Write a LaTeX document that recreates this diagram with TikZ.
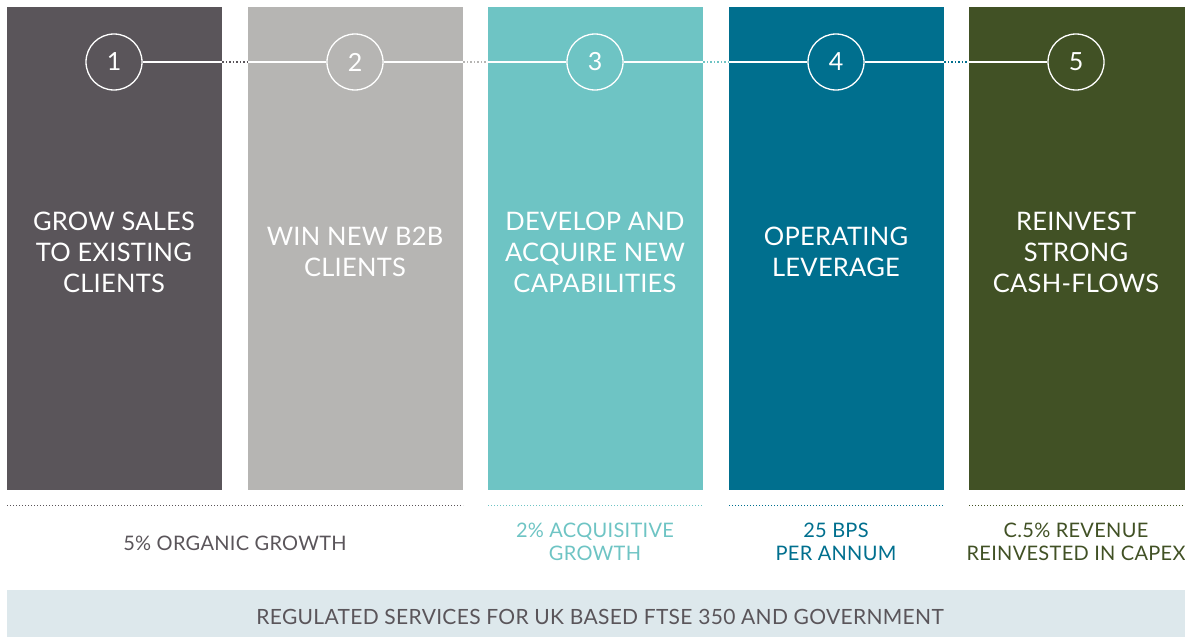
\documentclass[tikz,border=0pt]{standalone}
\usepackage{fontspec}
\setmainfont{Lato}
\definecolor{cA}{HTML}{5A555A}
\definecolor{cB}{HTML}{B6B5B3}
\definecolor{cC}{HTML}{6EC4C4}
\definecolor{cD}{HTML}{006F8E}
\definecolor{cE}{HTML}{415125}
\definecolor{band}{HTML}{DDE8EC}
\begin{document}
\begin{tikzpicture}[x=1pt,y=-1pt,
  colbox/.style={fill=#1,draw=none,minimum width=215pt,minimum height=483pt,inner sep=0pt,anchor=north west},
  numcirc/.style={circle,draw=white,line width=1.3pt,minimum size=56pt,inner sep=0pt,text=white,font=\fontsize{25}{27}\selectfont},
  coltext/.style={text=white,align=center,font=\fontsize{25.5}{31}\selectfont\addfontfeature{LetterSpace=1}},
  btext/.style={text=#1,align=center,font=\fontsize{20}{22.5}\selectfont\addfontfeature{LetterSpace=1.5}},
  wline/.style={draw=white,line width=1.3pt},
  gapdots/.style={draw=#1,line width=1.3pt,dash pattern=on 1.3pt off 2.2pt},
  basedots/.style={draw=#1,line width=1pt,dash pattern=on 1pt off 2pt}]
\useasboundingbox (0,0) rectangle (1185,637);
% columns
\node[colbox=cA] (col1) at (7,7) {};
\node[colbox=cB] (col2) at (248,7) {};
\node[colbox=cC] (col3) at (488,7) {};
\node[colbox=cD] (col4) at (729,7) {};
\node[colbox=cE,minimum width=216pt] (col5) at (969,7) {};
% circles
\node[numcirc] (c1) at (114,62) {1};
\node[numcirc] (c2) at (355,62) {2};
\node[numcirc] (c3) at (595,62) {3};
\node[numcirc] (c4) at (836,62) {4};
\node[numcirc] (c5) at (1076,62) {5};
% connecting lines
\draw[wline] (c1.east) -- (col1.east |- c1.east);
\draw[gapdots=cA] (col1.east |- c1.east) -- (col2.west |- c2.west);
\draw[wline] (col2.west |- c2.west) -- (c2.west);
\draw[wline] (c2.east) -- (col2.east |- c2.east);
\draw[gapdots=cB] (col2.east |- c2.east) -- (col3.west |- c3.west);
\draw[wline] (col3.west |- c3.west) -- (c3.west);
\draw[wline] (c3.east) -- (col3.east |- c3.east);
\draw[gapdots=cC] (col3.east |- c3.east) -- (col4.west |- c4.west);
\draw[wline] (col4.west |- c4.west) -- (c4.west);
\draw[wline] (c4.east) -- (col4.east |- c4.east);
\draw[gapdots=cD] (col4.east |- c4.east) -- (col5.west |- c5.west);
\draw[wline] (col5.west |- c5.west) -- (c5.west);
% column texts
\node[coltext] (t1) at (114,252) {GROW SALES\\TO EXISTING\\CLIENTS};
\node[coltext] (t2) at (355,252) {WIN NEW B2B\\CLIENTS};
\node[coltext] (t3) at (595,252) {DEVELOP AND\\ACQUIRE NEW\\CAPABILITIES};
\node[coltext] (t4) at (836,252) {OPERATING\\LEVERAGE};
\node[coltext] (t5) at (1076,252) {REINVEST\\STRONG\\CASH-FLOWS};
% base dotted lines
\coordinate (d1a) at (7,505); \coordinate (d1b) at (463,505);
\coordinate (d3a) at (488,505); \coordinate (d3b) at (703,505);
\coordinate (d4a) at (729,505); \coordinate (d4b) at (944,505);
\coordinate (d5a) at (969,505); \coordinate (d5b) at (1185,505);
\draw[basedots=cA] (d1a) -- (d1b);
\draw[basedots=cC] (d3a) -- (d3b);
\draw[basedots=cD] (d4a) -- (d4b);
\draw[basedots=cE] (d5a) -- (d5b);
% bottom texts
\node[btext=cA] (b1) at (235,543) {5\% ORGANIC GROWTH};
\node[btext=cC] (b3) at (595,542) {2\% ACQUISITIVE\\GROWTH};
\node[btext=cD] (b4) at (836,542) {25 BPS\\PER ANNUM};
\node[btext=cE] (b5) at (1076,542) {C.5\% REVENUE\\REINVESTED IN CAPEX};
% band
\node[fill=band,draw=none,minimum width=1178pt,minimum height=47pt,inner sep=0pt,anchor=north west] (bandbox) at (7,590) {};
\node[text=cA,font=\fontsize{21}{24}\selectfont\addfontfeature{LetterSpace=1.5}] (bandtext) at (600,617) {REGULATED SERVICES FOR UK BASED FTSE 350 AND GOVERNMENT};
\end{tikzpicture}
\end{document}
